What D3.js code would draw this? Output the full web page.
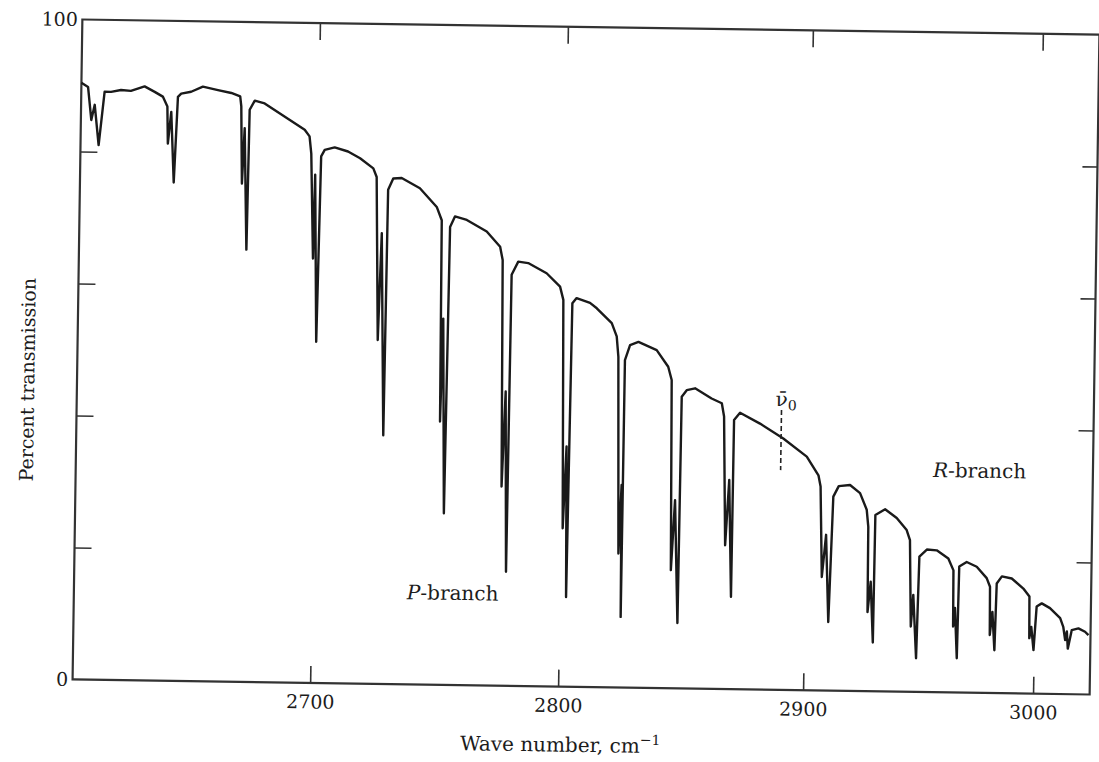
<!DOCTYPE html>
<html>
<head>
<meta charset="utf-8">
<script src="https://cdn.jsdelivr.net/npm/d3@7"></script>
<style>
  body { margin: 0; background: #fff; }
  text { font-family: "DejaVu Serif", serif; fill: #1c1c1c; }
</style>
</head>
<body>
<svg id="chart" width="1099" height="762"></svg>
<script>
// HCl fundamental band
const xTicks = [2700, 2800, 2900, 3000];
const yTicks = [20, 40, 60, 80];
const yLabelTicks = [0, 100];
const xDomain = [2604.2, 3024.6];
const nuZero = 2889.5;
const nuZeroSpan = [33.3, 42.4];

// [wave number, percent transmission]
const pBranchTrace = [
  [2604.2, 90.4], [2606.9, 89.8], [2608.4, 84.8], [2609.7, 87.1], [2611.5, 81.0],
  [2613.6, 89.1], [2616.2, 89.1], [2620.2, 89.4], [2624.2, 89.3], [2629.7, 90.0],
  [2633.8, 89.2], [2637.1, 88.5], [2639.0, 87.0], [2639.4, 81.4], [2640.6, 86.2],
  [2642.0, 75.5], [2643.2, 88.5], [2644.5, 89.0], [2648.5, 89.3], [2653.2, 90.1],
  [2659.3, 89.6], [2664.7, 89.2], [2668.3, 88.7], [2668.8, 87.2], [2669.5, 75.5],
  [2670.3, 83.9], [2671.7, 65.5], [2672.2, 86.7], [2674.2, 88.1], [2678.2, 87.7],
  [2694.5, 83.8], [2696.5, 82.8], [2697.3, 80.2], [2698.6, 64.3], [2699.0, 77.0],
  [2700.4, 51.7], [2701.3, 79.8], [2702.7, 80.8], [2706.7, 81.2], [2712.1, 80.6],
  [2717.0, 79.6], [2722.4, 78.1], [2723.8, 76.8], [2725.2, 52.1], [2726.2, 68.3],
  [2728.0, 37.7], [2728.5, 74.9], [2730.5, 76.6], [2733.9, 76.7], [2741.3, 75.2],
  [2748.2, 72.4], [2750.3, 70.4], [2750.8, 39.9], [2751.5, 55.5], [2752.9, 26.0],
  [2753.7, 69.4], [2755.6, 71.0], [2760.4, 70.5], [2768.5, 68.8], [2774.0, 66.5],
  [2775.1, 64.5], [2776.0, 30.2], [2777.1, 44.6], [2778.3, 17.3], [2778.8, 62.3],
  [2781.4, 64.3], [2785.4, 64.1], [2792.9, 62.6], [2798.4, 60.6], [2799.8, 58.6],
  [2800.9, 24.0], [2802.0, 36.4], [2802.7, 13.6], [2803.5, 58.1], [2805.2, 58.9],
  [2810.7, 58.2], [2813.5, 57.4], [2819.7, 55.2], [2821.8, 53.2], [2822.6, 50.1],
  [2823.8, 20.3], [2824.7, 30.7], [2825.1, 10.7], [2825.3, 49.6], [2827.3, 51.9],
  [2830.7, 52.4], [2838.2, 51.2], [2843.0, 48.7], [2844.5, 46.7], [2845.3, 17.9],
  [2846.6, 28.5], [2848.3, 9.9], [2848.7, 44.2], [2850.7, 45.2], [2854.1, 45.5],
  [2860.9, 44.0], [2865.1, 43.3], [2866.1, 41.3], [2867.3, 21.8], [2868.6, 31.7],
  [2870.0, 14.0], [2870.2, 40.8], [2872.6, 41.9], [2880.8, 40.3], [2890.4, 38.1],
  [2900.1, 35.4], [2905.3, 32.6], [2906.3, 30.9]
];

const rBranchTrace = [
  [2907.4, 17.2], [2909.0, 23.6], [2910.5, 10.4], [2911.9, 29.4], [2914.2, 31.0],
  [2919.1, 31.2], [2923.5, 30.0], [2926.5, 27.5], [2927.3, 24.9], [2927.5, 12.0],
  [2928.7, 16.6], [2930.0, 7.4], [2930.3, 26.7], [2934.5, 27.6], [2939.6, 26.3],
  [2944.0, 24.5], [2945.5, 23.0], [2946.4, 9.9], [2947.3, 14.7], [2948.9, 5.1],
  [2949.7, 20.5], [2952.9, 21.6], [2957.2, 21.5], [2962.3, 20.3], [2964.6, 18.5],
  [2964.8, 10.0], [2965.5, 12.8], [2966.6, 5.2], [2967.1, 19.1], [2970.3, 19.8],
  [2974.7, 19.1], [2979.1, 17.4], [2980.6, 16.1], [2980.8, 8.8], [2981.8, 12.3],
  [2982.9, 6.5], [2983.5, 16.6], [2985.7, 17.7], [2990.0, 17.4], [2995.1, 15.9],
  [2997.8, 14.7], [2998.0, 8.4], [2998.8, 10.1], [2999.9, 6.6], [3001.0, 13.2],
  [3003.2, 13.7], [3006.8, 13.0], [3011.3, 11.5], [3012.7, 10.2], [3013.6, 8.2],
  [3014.3, 9.5], [3014.8, 6.9], [3016.4, 9.7], [3019.3, 10.0], [3022.2, 9.5],
  [3023.7, 9.0]
];

const x = d3.scaleLinear().domain(xTicks).range([315, 563, 808, 1038]);
const y = d3.scaleLinear().domain([0, 100]).range([687, 27]);

const svg = d3.select('#chart');
// the scanned page sits slightly askew
const chart = svg.append('g').attr('transform', 'rotate(0.85, 586, 357)');

function styleAxis(g) {
  g.select('.domain').remove();
  g.selectAll('.tick line').attr('stroke', '#333').attr('stroke-width', 1.6);
  g.attr('font-family', null).attr('font-size', 19);
}

function createAxes() {
  const left = x(xDomain[0]);
  const right = x(xDomain[1]);

  chart.append('g')
    .attr('transform', `translate(0,${y(0)})`)
    .call(d3.axisBottom(x).tickValues(xTicks).tickSize(-17).tickPadding(12).tickFormat(d3.format('d')))
    .call(styleAxis);

  chart.append('g')
    .attr('transform', `translate(0,${y(100)})`)
    .call(d3.axisTop(x).tickValues(xTicks).tickSize(-17).tickFormat(''))
    .call(styleAxis);

  chart.append('g')
    .attr('transform', `translate(${left},0)`)
    .call(d3.axisLeft(y).tickValues(yTicks).tickSize(-17).tickFormat(''))
    .call(styleAxis);

  chart.append('g')
    .attr('transform', `translate(${left},0)`)
    .call(d3.axisLeft(y).tickValues(yLabelTicks).tickSize(0).tickPadding(4.5))
    .call(styleAxis);

  chart.append('g')
    .attr('transform', `translate(${right},0)`)
    .call(d3.axisRight(y).tickValues(yTicks).tickSize(-15).tickFormat(''))
    .call(styleAxis);

  chart.append('rect')
    .attr('x', left)
    .attr('y', y(100))
    .attr('width', right - left)
    .attr('height', y(0) - y(100))
    .attr('fill', 'none')
    .attr('stroke', '#333')
    .attr('stroke-width', 2.2);
}

function createCurve() {
  const line = d3.line()
    .x(d => x(d[0]))
    .y(d => y(d[1]));

  chart.append('path')
    .datum(pBranchTrace.concat(rBranchTrace))
    .attr('d', line)
    .attr('fill', 'none')
    .attr('stroke', '#1a1a1a')
    .attr('stroke-width', 2.4)
    .attr('stroke-linejoin', 'round');

  chart.append('line')
    .attr('x1', x(nuZero))
    .attr('x2', x(nuZero))
    .attr('y1', y(nuZeroSpan[1]))
    .attr('y2', y(nuZeroSpan[0]))
    .attr('stroke', '#222')
    .attr('stroke-width', 1.6)
    .attr('stroke-dasharray', '5,3');
}

function createLabels() {
  const nu = chart.append('text')
    .attr('x', x(nuZero) - 6)
    .attr('y', y(nuZeroSpan[1]) - 4)
    .attr('font-size', 20);
  nu.append('tspan').text('ν\u0304');
  nu.append('tspan').attr('font-size', 14).attr('dy', 4).text('0');

  const p = chart.append('text')
    .attr('x', x(2738.5))
    .attr('y', y(12.9))
    .attr('font-size', 20);
  p.append('tspan').attr('font-style', 'italic').text('P');
  p.append('tspan').text('-branch');

  const r = chart.append('text')
    .attr('x', x(2955.1))
    .attr('y', y(32.6))
    .attr('font-size', 20);
  r.append('tspan').attr('font-style', 'italic').text('R');
  r.append('tspan').text('-branch');

  const xl = chart.append('text')
    .attr('x', 566)
    .attr('y', 752)
    .attr('text-anchor', 'middle')
    .attr('font-size', 20);
  xl.append('tspan').text('Wave number, cm');
  xl.append('tspan').attr('font-size', 14).attr('dy', -8).text('−1');

  chart.append('text')
    .attr('transform', 'translate(28,388) rotate(-90)')
    .attr('text-anchor', 'middle')
    .attr('dy', '0.35em')
    .attr('font-size', 19)
    .text('Percent transmission');
}

createAxes();
createCurve();
createLabels();
</script>
</body>
</html>
